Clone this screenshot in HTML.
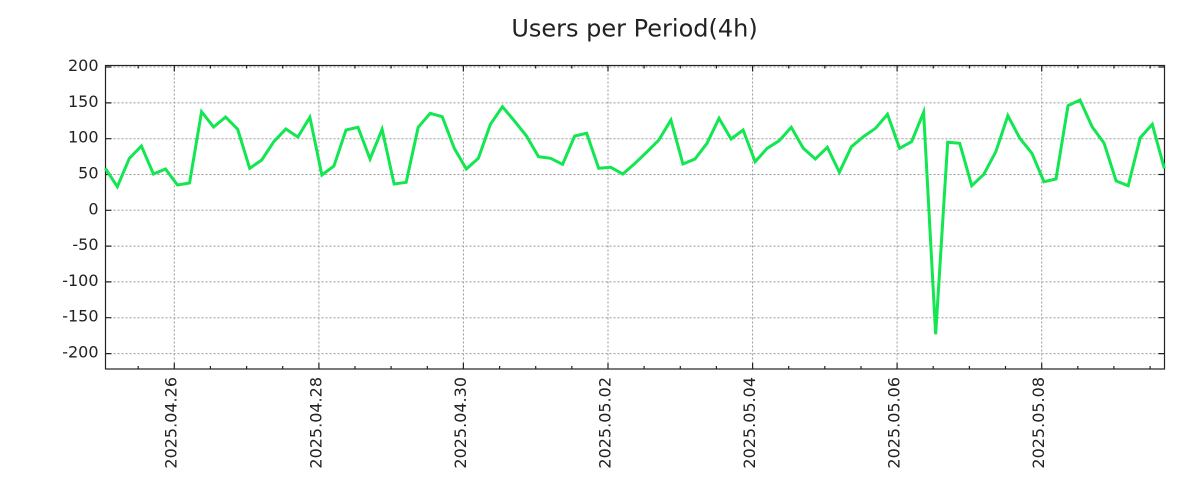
<!DOCTYPE html>
<html>
<head>
<meta charset="utf-8">
<style>
html,body{margin:0;padding:0;background:#fff;}
svg{display:block;}
text{font-family:"DejaVu Sans","Liberation Sans",sans-serif;fill:#222;}
</style>
</head>
<body>
<svg width="1200" height="500" viewBox="0 0 1200 500" xmlns="http://www.w3.org/2000/svg">
<rect x="0" y="0" width="1200" height="500" fill="#fff"/>
<text x="634.5" y="36.7" font-size="24" text-anchor="middle">Users per Period(4h)</text>

<!-- horizontal grid -->
<g stroke="#999" stroke-width="1" stroke-dasharray="2,2" fill="none">
<line x1="105.5" y1="67" x2="1164.5" y2="67"/>
<line x1="105.5" y1="102.9" x2="1164.5" y2="102.9"/>
<line x1="105.5" y1="138.7" x2="1164.5" y2="138.7"/>
<line x1="105.5" y1="174.5" x2="1164.5" y2="174.5"/>
<line x1="105.5" y1="210.3" x2="1164.5" y2="210.3"/>
<line x1="105.5" y1="246.1" x2="1164.5" y2="246.1"/>
<line x1="105.5" y1="281.9" x2="1164.5" y2="281.9"/>
<line x1="105.5" y1="317.7" x2="1164.5" y2="317.7"/>
<line x1="105.5" y1="353.6" x2="1164.5" y2="353.6"/>
<!-- vertical grid -->
<line x1="174.3" y1="65.5" x2="174.3" y2="369"/>
<line x1="318.9" y1="65.5" x2="318.9" y2="369"/>
<line x1="463.4" y1="65.5" x2="463.4" y2="369"/>
<line x1="608.0" y1="65.5" x2="608.0" y2="369"/>
<line x1="752.6" y1="65.5" x2="752.6" y2="369"/>
<line x1="897.1" y1="65.5" x2="897.1" y2="369"/>
<line x1="1041.7" y1="65.5" x2="1041.7" y2="369"/>
</g>

<!-- frame -->
<rect x="105.5" y="65.5" width="1059" height="303.5" fill="none" stroke="#222" stroke-width="1.2"/>

<!-- y ticks -->
<g stroke="#222" stroke-width="1.2">
<path d="M105.5 67h6M105.5 102.9h6M105.5 138.7h6M105.5 174.5h6M105.5 210.3h6M105.5 246.1h6M105.5 281.9h6M105.5 317.7h6M105.5 353.6h6"/>
<path d="M1164.5 67h-6M1164.5 102.9h-6M1164.5 138.7h-6M1164.5 174.5h-6M1164.5 210.3h-6M1164.5 246.1h-6M1164.5 281.9h-6M1164.5 317.7h-6M1164.5 353.6h-6"/>
<!-- x minor ticks bottom & top -->
<path d="M138.2 369v-3M210.4 369v-3M246.6 369v-3M282.7 369v-3M355.0 369v-3M391.1 369v-3M427.3 369v-3M499.6 369v-3M535.7 369v-3M571.8 369v-3M644.1 369v-3M680.3 369v-3M716.4 369v-3M788.7 369v-3M824.8 369v-3M861.0 369v-3M933.2 369v-3M969.4 369v-3M1005.5 369v-3M1077.8 369v-3M1113.9 369v-3M1150.1 369v-3"/>
<path d="M138.2 65.5v3M210.4 65.5v3M246.6 65.5v3M282.7 65.5v3M355.0 65.5v3M391.1 65.5v3M427.3 65.5v3M499.6 65.5v3M535.7 65.5v3M571.8 65.5v3M644.1 65.5v3M680.3 65.5v3M716.4 65.5v3M788.7 65.5v3M824.8 65.5v3M861.0 65.5v3M933.2 65.5v3M969.4 65.5v3M1005.5 65.5v3M1077.8 65.5v3M1113.9 65.5v3M1150.1 65.5v3"/>
<!-- x major ticks -->
<path d="M174.3 369v-6M318.9 369v-6M463.4 369v-6M608.0 369v-6M752.6 369v-6M897.1 369v-6M1041.7 369v-6"/>
<path d="M174.3 65.5v6M318.9 65.5v6M463.4 65.5v6M608.0 65.5v6M752.6 65.5v6M897.1 65.5v6M1041.7 65.5v6"/>
</g>

<!-- y labels -->
<g font-size="16" text-anchor="end">
<text x="98.5" y="71">200</text>
<text x="98.5" y="106.9">150</text>
<text x="98.5" y="142.7">100</text>
<text x="98.5" y="178.5">50</text>
<text x="98.5" y="214.3">0</text>
<text x="98.5" y="250.1">-50</text>
<text x="98.5" y="285.9">-100</text>
<text x="98.5" y="321.7">-150</text>
<text x="98.5" y="357.6">-200</text>
</g>

<!-- x labels -->
<g font-size="16" text-anchor="end">
<text transform="translate(176.7,377) rotate(-90)">2025.04.26</text>
<text transform="translate(321.3,377) rotate(-90)">2025.04.28</text>
<text transform="translate(465.8,377) rotate(-90)">2025.04.30</text>
<text transform="translate(610.4,377) rotate(-90)">2025.05.02</text>
<text transform="translate(755.0,377) rotate(-90)">2025.05.04</text>
<text transform="translate(899.5,377) rotate(-90)">2025.05.06</text>
<text transform="translate(1044.1,377) rotate(-90)">2025.05.08</text>
</g>

<!-- series -->
<polyline fill="none" stroke="#12e650" stroke-width="3" stroke-linejoin="miter" stroke-miterlimit="10" points="
105.3,168.3 117.33,186.7 129.37,158.3 141.40,146 153.44,174 165.47,169 177.50,185 189.54,183
201.57,111.7 213.61,127 225.64,117 237.67,129.3 249.71,168.3 261.74,160 273.78,141.7 285.81,129
297.84,137 309.88,117.3 321.91,175 333.95,166 345.98,130 358.01,127.3 370.05,159 382.08,129.3
394.12,184 406.15,182.3 418.18,127.3 430.22,113.3 442.25,116.7 454.29,148.3 466.32,169 478.35,158.3
490.39,124.3 502.42,106.7 514.46,121 526.49,136 538.52,156.7 550.56,158.3 562.59,164.3 574.63,136
586.66,133.3 598.69,168.3 610.73,167.3 622.76,174 634.80,163.5 646.83,152 658.86,140 670.90,120
682.93,164 694.97,159 707.00,143.3 719.03,118.3 731.07,139 743.10,130 755.14,161.7 767.17,148.3
779.20,140.7 791.24,127.3 803.27,148.3 815.31,159 827.34,147.3 839.37,172.3 851.41,146.7 863.44,136.7
875.48,128.3 887.51,114.3 899.54,148.3 911.58,141.7 923.61,112.3 935.65,334.3 947.68,142.3 959.71,143.3
971.75,185.7 983.78,174.3 995.82,151.7 1007.85,115.7 1019.88,138.3 1031.92,153.3 1043.95,181.7 1055.99,179
1068.02,105.7 1080.05,100 1092.09,126.7 1104.12,143.3 1116.16,181 1128.19,185.7 1140.22,137.7 1152.26,124.3
1164.3,168.3"/>
</svg>
</body>
</html>
